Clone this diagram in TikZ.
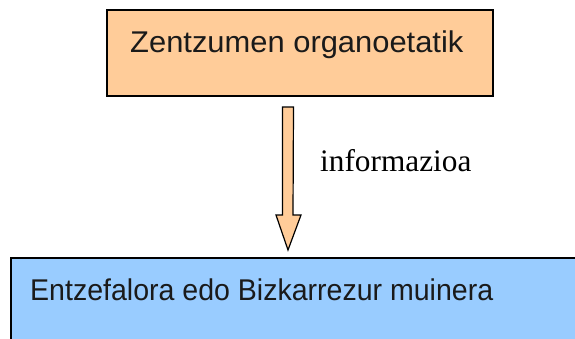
\documentclass[tikz,border=0pt]{standalone}
\usepackage{fontspec}
\newfontfamily\boxfont{Liberation Sans}
\newfontfamily\labelfont{Liberation Serif}
\definecolor{orangefill}{HTML}{FFCC99}
\definecolor{bluefill}{HTML}{99CCFF}
\definecolor{txt}{HTML}{1A1A1A}
\tikzset{
  boxstyle/.style={draw=black, line width=1.5pt, inner sep=0pt},
  boxtext/.style={anchor=base west, inner sep=0pt, text=txt, font=\boxfont\fontsize{30}{36}\selectfont},
  arrowstyle/.style={draw=black, line width=1.2pt, fill=orangefill, line join=miter},
  lbl/.style={anchor=base west, inner sep=0pt, font=\labelfont\fontsize{31.3}{36}\selectfont}
}
\begin{document}
\begin{tikzpicture}[x=1pt,y=-1pt]
\useasboundingbox (0,0) rectangle (575,338);
\clip (0,0) rectangle (575,338);
% top box
\node[boxstyle, fill=orangefill, minimum width=386pt, minimum height=86pt] (top) at (300,53) {};
\node[boxtext] (toptext) at (130,52) {\scalebox{1.03}[1]{Zentzumen organoetatik}};
% bottom box (runs off the page)
\node[boxstyle, fill=bluefill, minimum width=580pt, minimum height=100pt] (bottom) at (301,308) {};
\node[boxtext] (bottomtext) at (30,300) {\scalebox{0.951}[1]{Entzefalora edo Bizkarrezur muinera}};
% block arrow
\coordinate (astart) at (288,107);
\coordinate (atip) at (288,250);
\draw[arrowstyle] ([xshift=-5.5pt]astart) -- ([xshift=5.5pt]astart) -- (293,215) -- (301,215) -- (atip) -- (276,215) -- (282.5,215) -- cycle;
\node[lbl] (info) at (320,171) {informazioa};
\end{tikzpicture}
\end{document}
